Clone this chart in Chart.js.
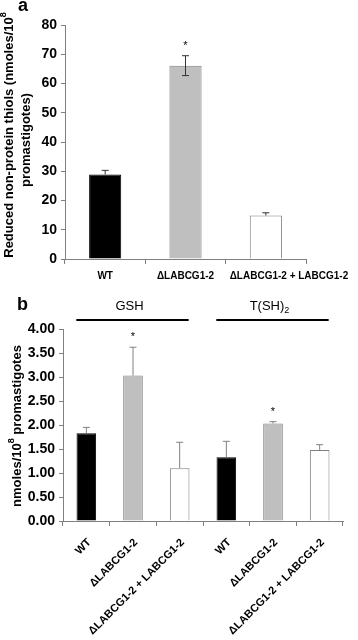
<!DOCTYPE html>
<html>
<head>
<meta charset="utf-8">
<script src="https://cdn.jsdelivr.net/npm/chart.js@4/dist/chart.umd.min.js"></script>
<style>
  body { margin: 0; background: #fff; }
  #panel-a { position: absolute; left: 0; top: 0; }
  #panel-b { position: absolute; left: 0; top: 295px; }
</style>
</head>
<body>
<canvas id="panel-a" width="358" height="295"></canvas>
<canvas id="panel-b" width="358" height="345"></canvas>
<script>
const FONT = "'Liberation Sans', Arial, sans-serif";

// panel a: reduced non-protein thiols
const thiolLabels = ['WT', 'ΔLABCG1-2', 'ΔLABCG1-2 + LABCG1-2'];
const thiolValues = [28.9, 66.1, 14.9];
const thiolErrUp = [1.4, 3.4, 0.9];
const thiolErrDown = [0, 3.4, 0];
const thiolStars = [false, true, false];

// panel b: GSH and T(SH)2
const groupNames = ['GSH', 'T(SH)', '2'];
const strainLabels = ['WT', 'ΔLABCG1-2', 'ΔLABCG1-2 + LABCG1-2', 'WT', 'ΔLABCG1-2', 'ΔLABCG1-2 + LABCG1-2'];
const levelValues = [1.83, 3.03, 1.10, 1.33, 2.03, 1.48];
const levelErrUp = [0.12, 0.59, 0.54, 0.33, 0.04, 0.11];
const levelStars = [false, true, false, false, true, false];

const fills = ['#000000', '#bfbfbf', '#ffffff'];
const borders = ['#000000', '#7f7f7f', '#7f7f7f'];

// draws text pieces one after another, rotated -90deg, centred at (cx, cy)
function drawRotated(ctx, cx, cy, parts) {
  ctx.save();
  ctx.translate(cx, cy);
  ctx.rotate(-Math.PI / 2);
  let total = 0;
  parts.forEach(p => { ctx.font = p.font; total += ctx.measureText(p.text).width; });
  let x = -total / 2;
  ctx.textBaseline = 'middle';
  ctx.textAlign = 'left';
  ctx.fillStyle = '#000';
  parts.forEach(p => {
    ctx.font = p.font;
    ctx.fillText(p.text, x, p.dy || 0);
    x += ctx.measureText(p.text).width;
  });
  ctx.restore();
}

const decor = {
  id: 'decor',
  afterDatasetsDraw(chart, args, opts) {
    const ctx = chart.ctx;
    const meta = chart.getDatasetMeta(0);
    const y = chart.scales.y;
    const ds = chart.data.datasets[0];
    // error bars
    ctx.save();
    ctx.strokeStyle = opts.errColor;
    ctx.lineWidth = 1;
    meta.data.forEach((bar, i) => {
      const v = ds.data[i];
      const top = y.getPixelForValue(v + opts.errUp[i]);
      const bottom = y.getPixelForValue(v - opts.errDown[i]);
      ctx.beginPath();
      ctx.moveTo(bar.x, top);
      ctx.lineTo(bar.x, bottom);
      ctx.moveTo(bar.x - 3.5, top);
      ctx.lineTo(bar.x + 3.5, top);
      if (opts.errDown[i] > 0) {
        ctx.moveTo(bar.x - 3.5, bottom);
        ctx.lineTo(bar.x + 3.5, bottom);
      }
      ctx.stroke();
      if (opts.stars[i]) {
        ctx.fillStyle = '#000';
        ctx.font = '11px ' + FONT;
        ctx.textAlign = 'center';
        ctx.textBaseline = 'middle';
        ctx.fillText('*', bar.x, top - 10);
      }
    });
    ctx.restore();
  },
  afterDraw(chart, args, opts) {
    const ctx = chart.ctx;
    ctx.save();
    ctx.fillStyle = '#000';
    ctx.font = 'bold 18px ' + FONT;
    ctx.textAlign = 'left';
    ctx.textBaseline = 'alphabetic';
    ctx.fillText(opts.panel, opts.panelX, opts.panelY);
    opts.titles.forEach(t => drawRotated(ctx, t.x, t.y, t.parts));
    if (opts.flatLabels) {
      // category labels, centred unless wider than the category
      const x = chart.scales.x;
      const step = x.getPixelForValue(1) - x.getPixelForValue(0);
      ctx.font = 'bold 10px ' + FONT;
      ctx.textBaseline = 'middle';
      chart.data.labels.forEach((lab, i) => {
        const cx = x.getPixelForValue(i);
        const w = ctx.measureText(lab).width;
        if (w > step) {
          ctx.textAlign = 'left';
          ctx.fillText(lab, cx - step / 2 + 4, opts.flatLabels);
        } else {
          ctx.textAlign = 'center';
          ctx.fillText(lab, cx, opts.flatLabels);
        }
      });
    }
    if (opts.groups) {
      const x = chart.scales.x;
      ctx.textAlign = 'left';
      opts.groups.forEach(g => {
        const x0 = x.getPixelForValue(g.from) - 10;
        const x1 = x.getPixelForValue(g.to) + 9;
        ctx.strokeStyle = '#000';
        ctx.lineWidth = 2;
        ctx.beginPath();
        ctx.moveTo(x0, 25);
        ctx.lineTo(x1, 25);
        ctx.stroke();
        ctx.font = '13px ' + FONT;
        const w = ctx.measureText(g.name).width;
        ctx.font = '9px ' + FONT;
        const sw = g.sub ? ctx.measureText(g.sub).width : 0;
        const tx = (x0 + x1) / 2 - (w + sw) / 2 - 3;
        ctx.font = '13px ' + FONT;
        ctx.fillText(g.name, tx, 15);
        if (g.sub) {
          ctx.font = '9px ' + FONT;
          ctx.fillText(g.sub, tx + w, 18);
        }
      });
    }
    ctx.restore();
  }
};

const axisGrid = { drawOnChartArea: false, drawTicks: true, tickLength: 4, color: '#808080' };

new Chart(document.getElementById('panel-a').getContext('2d'), {
  type: 'bar',
  plugins: [decor],
  data: {
    labels: thiolLabels,
    datasets: [{
      data: thiolValues,
      backgroundColor: fills,
      borderColor: borders,
      borderWidth: 1,
      barPercentage: 0.4,
      categoryPercentage: 1
    }]
  },
  options: {
    responsive: false,
    animation: false,
    layout: { padding: { top: 25, right: 52, left: 0, bottom: 0 } },
    plugins: {
      legend: { display: false },
      tooltip: { enabled: false },
      decor: {
        panel: 'a', panelX: 18, panelY: 11,
        flatLabels: 276,
        errUp: thiolErrUp, errDown: thiolErrDown, stars: thiolStars, errColor: '#333333',
        titles: [
          { x: 9, y: 135, parts: [
            { text: 'Reduced non-protein thiols (nmoles/10', font: 'bold 13px ' + FONT },
            { text: '8', font: 'bold 9px ' + FONT, dy: -5 }
          ] },
          { x: 26, y: 140, parts: [{ text: 'promastigotes)', font: 'bold 13px ' + FONT }] }
        ]
      }
    },
    scales: {
      x: {
        afterFit: s => { s.height = 36; },
        grid: { ...axisGrid, offset: true, tickLength: 5 },
        border: { color: '#808080' },
        ticks: { display: false }
      },
      y: {
        min: 0, max: 80,
        afterFit: s => { s.width = 65; },
        grid: axisGrid,
        border: { color: '#808080' },
        ticks: { stepSize: 10, color: '#000', font: { family: FONT, size: 14, weight: 'bold' }, padding: 4 }
      }
    }
  }
});

new Chart(document.getElementById('panel-b').getContext('2d'), {
  type: 'bar',
  plugins: [decor],
  data: {
    labels: strainLabels,
    datasets: [{
      data: levelValues,
      backgroundColor: fills.concat(fills),
      borderColor: borders.concat(borders),
      borderWidth: 1,
      barPercentage: 0.42,
      categoryPercentage: 1
    }]
  },
  options: {
    responsive: false,
    animation: false,
    layout: { padding: { top: 34, right: 15, left: 0, bottom: 0 } },
    plugins: {
      legend: { display: false },
      tooltip: { enabled: false },
      decor: {
        panel: 'b', panelX: 17, panelY: 15,
        errUp: levelErrUp, errDown: [0, 0, 0, 0, 0, 0], stars: levelStars, errColor: '#808080',
        groups: [
          { name: groupNames[0], from: 0, to: 2 },
          { name: groupNames[1], sub: groupNames[2], from: 3, to: 5 }
        ],
        titles: [
          { x: 17, y: 131, parts: [
            { text: 'nmoles/10', font: 'bold 13px ' + FONT },
            { text: '8', font: 'bold 9px ' + FONT, dy: -5 },
            { text: ' promastigotes', font: 'bold 13px ' + FONT }
          ] }
        ]
      }
    },
    scales: {
      x: {
        afterFit: s => { s.height = 119; },
        grid: { ...axisGrid, offset: true, tickLength: 5 },
        border: { color: '#808080' },
        ticks: { color: '#000', font: { family: FONT, size: 11, weight: 'bold' }, padding: 10, labelOffset: 3,
          minRotation: 45, maxRotation: 45, autoSkip: false }
      },
      y: {
        min: 0, max: 4,
        afterFit: s => { s.width = 63; },
        grid: axisGrid,
        border: { color: '#808080' },
        ticks: { stepSize: 0.5, color: '#000', font: { family: FONT, size: 14, weight: 'bold' }, padding: 4,
          callback: v => v.toFixed(2) }
      }
    }
  }
});
</script>
</body>
</html>
